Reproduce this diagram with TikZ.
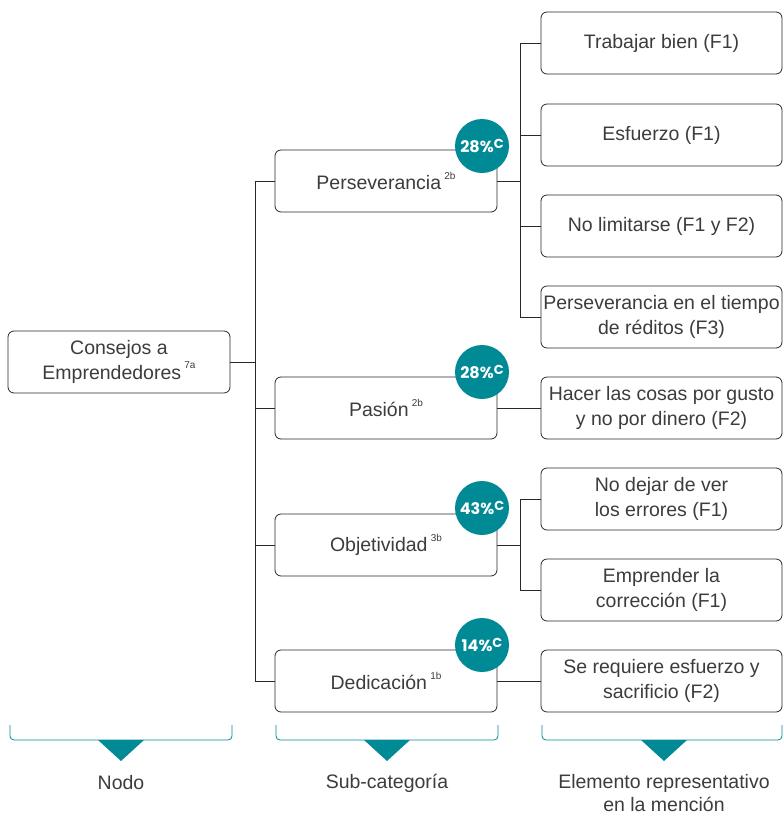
\documentclass[tikz,border=0pt]{standalone}
\usepackage{fontspec}
\setmainfont{Liberation Sans}
\newfontfamily\pctfont{Poppins}
\definecolor{teal1}{RGB}{0,138,150}
\definecolor{txt}{RGB}{60,60,60}
\definecolor{edge}{RGB}{40,40,40}
\newcommand\sps[1]{\,\raisebox{0.55em}{\fontsize{10}{10}\selectfont #1}}
\newcommand\pcs[1]{#1\raisebox{0.3em}{\fontsize{13}{13}\selectfont C}}
\begin{document}
\begin{tikzpicture}[x=1pt,y=-1pt,
  box/.style={draw=edge, rounded corners=6pt, minimum width=222pt, minimum height=62pt,
    align=center, font=\fontsize{19.5}{24.5}\selectfont, text=txt, line width=0.8pt, inner sep=0pt},
  rbox/.style={box, minimum width=241pt},
  pct/.style={circle, fill=teal1, minimum size=54pt, text=white,
    font=\pctfont\bfseries\fontsize{16}{16}\selectfont, inner sep=0pt},
  ln/.style={draw=edge, line width=0.8pt},
  brk/.style={draw=teal1, line width=0.8pt, rounded corners=4pt},
  lab/.style={align=center, font=\fontsize{19.5}{23}\selectfont, text=txt}]
\useasboundingbox (0,0) rectangle (783,817);
% root
\node[box] (root) at (119,362) {Consejos a\\Emprendedores\sps{7a}};
% subcategories
\node[box] (s1) at (386,181) {Perseverancia\sps{2b}};
\node[box] (s2) at (386,408) {Pasión\sps{2b}};
\node[box] (s3) at (386,545) {Objetividad\sps{3b}};
\node[box] (s4) at (386,681) {Dedicación\sps{1b}};
% elements
\node[rbox] (e1) at (661.5,43) {Trabajar bien (F1)};
\node[rbox] (e2) at (661.5,135) {Esfuerzo (F1)};
\node[rbox] (e3) at (661.5,226) {No limitarse (F1 y F2)};
\node[rbox] (e4) at (661.5,317) {Perseverancia en el tiempo\\de réditos (F3)};
\node[rbox] (e5) at (661.5,408) {Hacer las cosas por gusto\\y no por dinero (F2)};
\node[rbox] (e6) at (661.5,499) {No dejar de ver\\los errores (F1)};
\node[rbox] (e7) at (661.5,590) {Emprender la\\corrección (F1)};
\node[rbox] (e8) at (661.5,681) {Se requiere esfuerzo y\\sacrificio (F2)};
% connectors
\coordinate (tr) at (255,0);
\coordinate (br) at (520,0);
\draw[ln] (root.east) -- (root.east -| tr);
\draw[ln] (s1.west) -- (s1.west -| tr) -- (s4.west -| tr) -- (s4.west);
\draw[ln] (s2.west) -- (s2.west -| tr);
\draw[ln] (s3.west) -- (s3.west -| tr);
\draw[ln] (s1.east) -- (s1.east -| br);
\draw[ln] (e1.west) -- (e1.west -| br) -- (e4.west -| br) -- (e4.west);
\draw[ln] (e2.west) -- (e2.west -| br);
\draw[ln] (e3.west) -- (e3.west -| br);
\draw[ln] (s2.east) -- (e5.west);
\draw[ln] (s3.east) -- (s3.east -| br);
\draw[ln] (e6.west) -- (e6.west -| br) -- (e7.west -| br) -- (e7.west);
\draw[ln] (s4.east) -- (e8.west);
% percentage circles
\node[pct] (p1) at (482,146) {\pcs{28\%}};
\node[pct] (p2) at (482,372) {\pcs{28\%}};
\node[pct] (p3) at (482,508) {\pcs{43\%}};
\node[pct] (p4) at (482,645) {\pcs{14\%}};
% bottom legend brackets
\draw[brk] (10,725) -- (10,740) -- (232,740) -- (232,725);
\draw[brk] (276,725) -- (276,740) -- (498,740) -- (498,725);
\draw[brk] (542,725) -- (542,740) -- (782,740) -- (782,725);
\fill[teal1] (98,740) -- (144,740) -- (121,761) -- cycle;
\fill[teal1] (364,740) -- (410,740) -- (387,761) -- cycle;
\fill[teal1] (641,740) -- (687,740) -- (664,761) -- cycle;
\node[lab] (l1) at (121,783) {Nodo};
\node[lab] (l2) at (387,783) {Sub-categoría};
\node[lab, anchor=north] (l3) at (664,771) {Elemento representativo\\en la mención};
\end{tikzpicture}
\end{document}
